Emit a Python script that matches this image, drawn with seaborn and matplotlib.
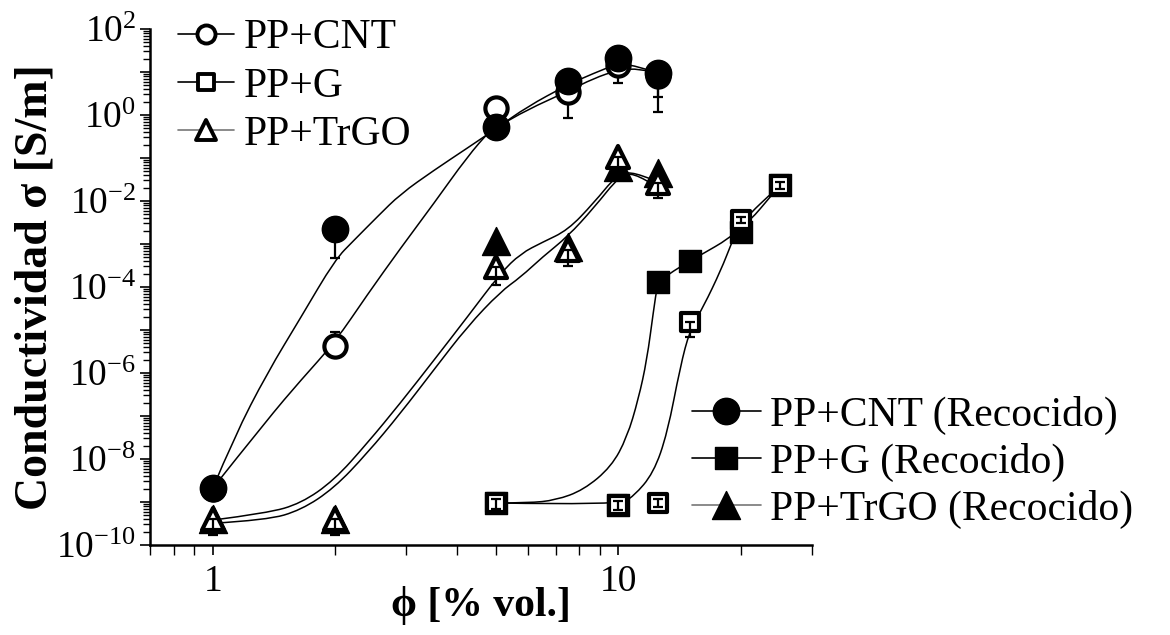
import numpy as np
import matplotlib
matplotlib.use("Agg")
import matplotlib.pyplot as plt
from matplotlib.lines import Line2D
from matplotlib.markers import MarkerStyle
from matplotlib.path import Path
from matplotlib.patches import PathPatch
from matplotlib import ticker
import seaborn as sns
import pandas as pd

sns.set_theme(style="ticks")
plt.rcParams['font.family'] = ['Liberation Serif', 'DejaVu Serif']
plt.rcParams['mathtext.fontset'] = 'custom'
plt.rcParams['mathtext.rm'] = 'Liberation Serif'
plt.rcParams['mathtext.bf'] = 'Liberation Serif:bold'

# ---- measured conductivity (S/m) vs filler content (% vol.) ----
phi_cnt = [1, 2, 5, 7.5, 10, 12.5]
sigma_cnt = [2.0e-9, 4.2e-6, 1.45, 3.4, 14.5, 8.0]
sigma_cnt_low = [2.0e-9, 4.2e-6, 1.1, 0.85, 5.5, 1.2]
sigma_cnt_high = [2.0e-9, 9.0e-6, 1.45, 3.4, 14.5, 8.0]

sigma_cnt_ann = [2.1e-9, 2.2e-3, 0.52, 6.2, 21.0, 9.5]
sigma_cnt_ann_low = [2.1e-9, 4.7e-4, 0.52, 6.2, 21.0, 2.6]

phi_g = [5, 10, 12.5, 15, 20, 25]
sigma_g = [9.5e-10, 8.5e-10, 9.5e-10, 1.5e-5, 3.6e-3, 0.023]
sigma_g_low = [7.0e-10, 6.5e-10, 7.5e-10, 6.9e-6, 3.0e-3, 0.019]
sigma_g_high = [1.2e-9, 1.05e-9, 1.2e-9, 1.5e-5, 4.3e-3, 0.028]
sigma_g_ann = [9.5e-10, 8.5e-10, 1.3e-4, 4.0e-4, 1.9e-3, 0.023]

phi_trgo = [1, 2, 5, 7.5, 10, 12.5]
sigma_trgo = [4.0e-10, 4.0e-10, 2.9e-4, 7.2e-4, 0.105, 0.026]
sigma_trgo_low = [1.7e-10, 1.7e-10, 1.1e-4, 3.0e-4, 0.034, 0.012]
sigma_trgo_ann = [4.0e-10, 4.0e-10, 1.2e-3, 8.5e-4, 0.062, 0.045]

# ---- fitted percolation curves: control points (phi, sigma) ----
fit_cnt_ann_x = [1.0, 1.13, 1.36, 1.65, 2.0, 2.23, 2.55, 2.9, 3.51, 4.24, 5.02, 5.95,
                 7.48, 8.68, 10.0, 11.3, 12.7]
fit_cnt_ann_y = [2.1e-9, 3.3e-8, 9.8e-7, 2.0e-5, 4.3e-4, 1.23e-3, 4.4e-3, 1.45e-2,
                 5.2e-2, 0.17, 0.50, 1.55, 5.0, 9.3, 15.8, 13.2, 8.5]
fit_cnt_x = [1.0, 1.36, 1.65, 2.0, 2.40, 2.90, 3.51, 4.24, 4.84, 5.02, 5.95, 7.48, 8.68,
             10.0, 11.3, 12.7]
fit_cnt_y = [2.1e-9, 8.1e-8, 6.9e-7, 5.2e-6, 6.5e-5, 7.9e-4, 8.9e-3, 0.107, 0.45, 0.52,
             1.32, 3.5, 7.1, 11.2, 12.0, 8.5]

fit_trgo_ann_x = [1.0, 1.36, 1.65, 1.99, 2.40, 2.90, 3.51, 4.24, 5.12, 5.74, 6.5, 7.5,
                  8.68, 9.9, 10.7, 12.2]
fit_trgo_ann_y = [3.8e-10, 5.5e-10, 9.3e-10, 3.2e-9, 2.3e-8, 2.0e-7, 2.0e-6, 2.0e-5,
                  2.1e-4, 6.0e-4, 1.1e-3, 2.1e-3, 8.9e-3, 4.0e-2, 4.8e-2, 3.1e-2]
fit_trgo_x = [1.0, 1.36, 1.65, 1.99, 2.40, 2.90, 3.51, 4.24, 5.12, 5.74, 6.5, 7.5,
              8.68, 10.1, 10.9, 12.5]
fit_trgo_y = [3.2e-10, 3.8e-10, 6.5e-10, 2.1e-9, 1.35e-8, 1.15e-7, 1.2e-6, 1.2e-5,
              7.8e-5, 1.7e-4, 5.0e-4, 1.5e-3, 6.8e-3, 4.0e-2, 4.4e-2, 2.1e-2]

fit_g_ann_x = [5, 6.0, 7.0, 8.2, 9.6, 10.5, 11.2, 11.75, 12.2, 12.5, 13.7, 15, 20, 25]
fit_g_ann_y = [9.5e-10, 9.5e-10, 1.1e-9, 1.9e-9, 6.6e-9, 3.2e-8, 2.5e-7, 2.0e-6,
               2.8e-5, 1.3e-4, 2.4e-4, 4.0e-4, 1.9e-3, 0.023]
fit_g_x = [5, 10, 10.9, 12.2, 13.2, 14.2, 15, 16.2, 17.9, 19.0, 20, 25]
fit_g_y = [9.5e-10, 8.5e-10, 1.35e-9, 4.7e-9, 4.0e-8, 1.4e-6, 1.0e-5, 3.5e-5, 2.5e-4,
           1.05e-3, 3.2e-3, 0.023]

fig = plt.figure(figsize=(11.7, 6.35), dpi=100)
ax = fig.add_axes([150 / 1170, 90 / 635, 662 / 1170, 516 / 635])
ax.set_xscale('log')
ax.set_yscale('log')
ax.set_xlim(0.70, 30)
ax.set_ylim(1e-10, 1e2)


def spline_path(xs, ys):
    """Smooth curve through the control points using quadratic Bezier segments."""
    verts = [(xs[0], ys[0])]
    codes = [Path.MOVETO]
    for i in range(1, len(xs) - 1):
        mid = (np.sqrt(xs[i] * xs[i + 1]), np.sqrt(ys[i] * ys[i + 1]))
        verts += [(xs[i], ys[i]), mid]
        codes += [Path.CURVE3, Path.CURVE3]
    verts.append((xs[-1], ys[-1]))
    codes.append(Path.LINETO)
    return Path(verts, codes)


curves = [(fit_cnt_ann_x, fit_cnt_ann_y), (fit_cnt_x, fit_cnt_y),
          (fit_trgo_ann_x, fit_trgo_ann_y), (fit_trgo_x, fit_trgo_y),
          (fit_g_ann_x, fit_g_ann_y), (fit_g_x, fit_g_y)]
for cx, cy in curves:
    ax.add_patch(PathPatch(spline_path(cx, cy), transform=ax.transData, fill=False,
                           edgecolor='black', lw=1.1, zorder=2))


def err(vals, low, high=None):
    vals = np.asarray(vals)
    lo = vals - np.asarray(low)
    hi = (np.asarray(high) - vals) if high is not None else np.zeros_like(vals)
    return [lo, hi]


eb_kw = dict(fmt='none', ecolor='black', elinewidth=1.6, capsize=3.5, capthick=1.6, zorder=3)
ax.errorbar(phi_cnt, sigma_cnt, yerr=err(sigma_cnt, sigma_cnt_low, sigma_cnt_high), **eb_kw)
ax.errorbar(phi_cnt, sigma_cnt_ann, yerr=err(sigma_cnt_ann, sigma_cnt_ann_low), **eb_kw)
ax.errorbar(phi_g, sigma_g, yerr=err(sigma_g, sigma_g_low, sigma_g_high), **dict(eb_kw, zorder=8))
ax.errorbar(phi_trgo, sigma_trgo, yerr=err(sigma_trgo, sigma_trgo_low), **dict(eb_kw, zorder=8))


def mk(m):
    return MarkerStyle(m, joinstyle='round')


open_kw = dict(ls='none', mfc='white', mec='black', mew=3.0)
fill_kw = dict(ls='none', mfc='black', mec='black', mew=1.0)

ax.plot(phi_cnt, sigma_cnt, marker=mk('o'), ms=16, zorder=4, **open_kw)
ax.plot(phi_cnt, sigma_cnt_ann, marker=mk('o'), ms=19, zorder=5, **fill_kw)
ax.plot(phi_g, sigma_g_ann, marker=mk('s'), ms=16, zorder=6, **fill_kw)
ax.plot(phi_g, sigma_g, marker=mk('s'), ms=13, zorder=7, **open_kw)
ax.plot(phi_trgo, sigma_trgo_ann, marker=mk('^'), ms=20, zorder=6, **fill_kw)
ax.plot(phi_trgo, sigma_trgo, marker=mk('^'), ms=16, zorder=7, **open_kw)

# axes styling
sns.despine(ax=ax)
for s in ('left', 'bottom'):
    ax.spines[s].set_linewidth(1.8)
    ax.spines[s].set_color('black')

ax.yaxis.set_major_locator(ticker.LogLocator(base=10, numticks=30))
ax.yaxis.set_minor_locator(ticker.LogLocator(base=10, subs=np.arange(2, 10), numticks=30))
ax.yaxis.set_minor_formatter(ticker.NullFormatter())


def ylab(v, pos):
    e = int(round(np.log10(v)))
    return r'$\mathregular{10^{%d}}$' % e if e % 2 == 0 else ''


ax.yaxis.set_major_formatter(ticker.FuncFormatter(ylab))
ax.xaxis.set_major_locator(ticker.FixedLocator([1, 10]))
ax.xaxis.set_major_formatter(ticker.FixedFormatter(['1', '10']))
ax.xaxis.set_minor_locator(ticker.LogLocator(base=10, subs=np.arange(2, 10), numticks=30))
ax.xaxis.set_minor_formatter(ticker.NullFormatter())

ax.tick_params(axis='both', which='major', direction='out', length=7, width=1.2,
               color='black', labelsize=27, labelcolor='black')
ax.tick_params(axis='both', which='minor', direction='out', length=5, width=1.0, color='black')
ax.tick_params(axis='x', which='minor', length=7)
ax.tick_params(axis='y', pad=3)
ax.tick_params(axis='x', pad=7)

ax.set_ylabel('Conductividad σ [S/m]', fontsize=33, fontweight='bold', color='black', labelpad=0)
ax.set_xlabel('ϕ [% vol.]', fontsize=30, fontweight='bold', color='black', labelpad=-9)
ax.grid(False)


# legends
def handle(marker, filled, lcolor='black', ms=14):
    if filled:
        return Line2D([], [], color=lcolor, lw=1.2, marker=mk(marker), ms=ms,
                      mfc='black', mec='black', mew=1.0)
    return Line2D([], [], color=lcolor, lw=1.2, marker=mk(marker), ms=ms - 2,
                  mfc='white', mec='black', mew=2.8)


h1 = [handle('o', False, ms=15), handle('s', False, ms=13), handle('^', False, '#777777', ms=16)]
leg1 = fig.legend(h1, ['PP+CNT', 'PP+G', 'PP+TrGO'], loc='upper left',
                  bbox_to_anchor=(178 / 1170, 1 - 19 / 635), frameon=False, fontsize=30,
                  handlelength=1.35, handletextpad=0.22, labelspacing=0.23, borderpad=0,
                  borderaxespad=0)
h2 = [handle('o', True, ms=19), handle('s', True, ms=16), handle('^', True, '#777777', ms=20)]
leg2 = fig.legend(h2, ['PP+CNT (Recocido)', 'PP+G (Recocido)', 'PP+TrGO (Recocido)'],
                  loc='upper left', bbox_to_anchor=(692 / 1170, 1 - 396 / 635), frameon=False,
                  fontsize=30, handlelength=1.65, handletextpad=0.22, labelspacing=0.19,
                  borderpad=0, borderaxespad=0)
for lg in (leg1, leg2):
    for t in lg.get_texts():
        t.set_color('black')

fig.savefig('out.png', dpi=100, facecolor='white')
